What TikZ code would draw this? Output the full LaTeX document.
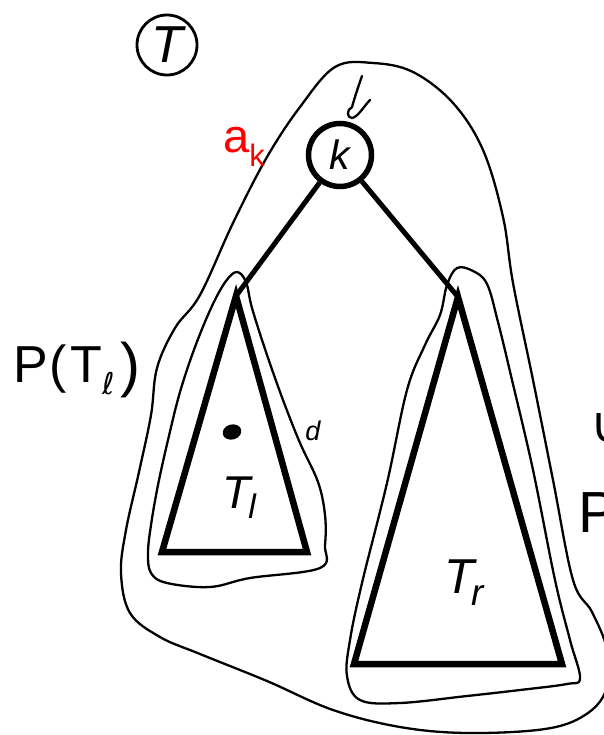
\documentclass[tikz,border=0pt]{standalone}
\usepackage{fontspec}
\usetikzlibrary{shapes.geometric}
\setmainfont{Liberation Sans}
\newfontfamily\djv{DejaVu Sans}
\begin{document}
\begin{tikzpicture}[x=1pt,y=-1pt,
  pen/.style={line width=2.3pt, line cap=round, line join=round},
  tri/.style={line width=6.5pt, line join=miter},
  treeedge/.style={line width=5pt},
  lbl/.style={inner sep=0pt, anchor=base west}]
\useasboundingbox (0,0) rectangle (603,735);

% outer loop P(T)
\draw[pen] plot[smooth cycle, tension=0.6] coordinates {
 (335,67) (373,63) (413,72) (453,103) (483,150) (503,217) (513,283)
 (533,380) (553,480) (573,580) (592,612) (607,650) (606,690) (585,715)
 (545,729) (467,733) (400,727) (333,710) (267,681) (200,654) (160,637)
 (130,613) (121,573) (126,530) (139,472) (151,415) (157,368) (175,328)
 (200,295) (233,223) (267,157) (300,107)};

% inner loop around left subtree
\draw[pen] plot[smooth cycle, tension=0.6] coordinates {
 (237,272) (246,282) (252,308) (266,352) (283,400) (300,443) (318,482)
 (325,515) (325,545) (320,568) (250,578) (210,587) (167,583) (151,573)
 (148,553) (151,525) (158,485) (168,440) (180,392) (195,347) (212,306)
 (226,281)};

% inner loop around right subtree
\draw[pen] plot[smooth cycle, tension=0.6] coordinates {
 (457,268) (473,271) (487,284) (498,322) (512,380) (533,470) (555,580)
 (570,640) (580,678) (567,684) (520,690) (467,696) (400,703) (360,700)
 (347,676) (350,640) (362,583) (387,483) (407,390) (425,345) (440,315)
 (447,285)};

% circled T
\node[draw, circle, line width=2.8pt, minimum size=60pt, inner sep=0pt] (tc) at (167,45)
  {\fontsize{52}{52}\selectfont\itshape T};

% root k
\node[draw, circle, line width=5.5pt, minimum size=63pt, inner sep=0pt] (k) at (340,155)
  {\raisebox{-4pt}{\fontsize{41}{41}\selectfont\itshape k}};

% hand drawn arrow to k
\coordinate (arrs) at (362,76);
\draw[pen] (arrs) .. controls (357,90) and (354,100) .. (352,107)
  .. controls (346,110) and (347,118) .. (352,118)
  .. controls (358,117) and (364,106) .. (370,100);

% a_k
\node[lbl, red] (ak) at (223,153)
  {\fontsize{47}{47}\selectfont a\raisebox{-14pt}{\fontsize{31}{31}\selectfont k}};

% subtrees
\coordinate (lapex) at (236,296);
\coordinate (lbl) at (162,552);
\coordinate (lbr) at (307,552);
\coordinate (rapex) at (458,297);
\coordinate (rbl) at (354,664);
\coordinate (rbr) at (562,664);
\draw[tri] (lapex) -- (lbr) -- (lbl) -- cycle;
\draw[tri] (rapex) -- (rbr) -- (rbl) -- cycle;

% tree edges
\draw[treeedge] (k) -- (lapex);
\draw[treeedge] (k) -- (rapex);

% labels of subtrees
\node[lbl] (tl) at (222,508)
  {\fontsize{46}{46}\selectfont\itshape T\hspace{-2pt}\raisebox{-10pt}{\fontsize{34}{34}\selectfont l}};
\node[lbl] (tr) at (444,593)
  {\fontsize{49}{49}\selectfont\itshape T\hspace{-3pt}\raisebox{-12pt}{\fontsize{37}{37}\selectfont r}};

% dot and d
\node[fill, ellipse, minimum width=19pt, minimum height=15pt, inner sep=0pt, rotate=15] (dot) at (232,432) {};
\node[inner sep=0pt] (dl) at (313,431) {\fontsize{27}{27}\selectfont\itshape d};

% P(T_l)
\node[lbl] (ptl) at (13,382)
  {\fontsize{52}{52}\selectfont P\hspace{2pt}(\hspace{3pt}T\hspace{1pt}\raisebox{-12pt}{\djv\fontsize{30}{30}\selectfont ℓ}\hspace{5pt}\raisebox{-3pt}{\fontsize{60}{60}\selectfont )}};

% cut off text at the right edge
\node[lbl] (cup) at (590,442) {\djv\fontsize{50}{50}\selectfont ∪};
\node[lbl] (ptr) at (578,532) {\fontsize{58}{58}\selectfont P(T)};
\end{tikzpicture}
\end{document}
